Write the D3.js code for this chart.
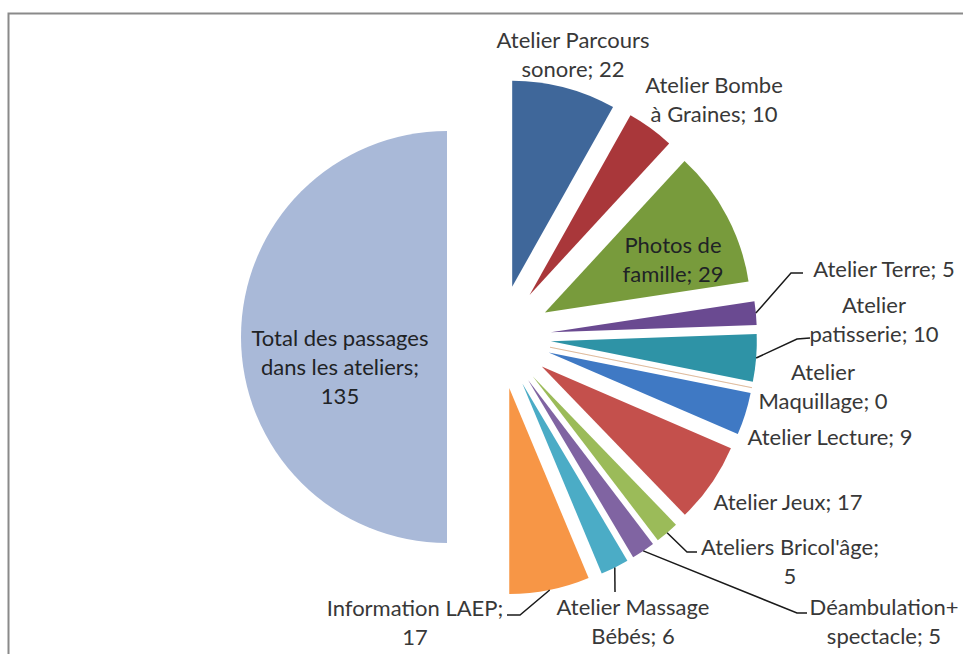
<!DOCTYPE html>
<html>
<head>
<meta charset="utf-8">
<script src="https://cdn.jsdelivr.net/npm/d3@7"></script>
<style>
  body { margin: 0; background: #fff; }
  svg { display: block; }
</style>
</head>
<body>
<div id="chart"></div>
<script>
// data
var categories = ["Atelier Parcours sonore", "Atelier Bombe à Graines", "Photos de famille",
  "Atelier Terre", "Atelier patisserie", "Atelier Maquillage", "Atelier Lecture",
  "Atelier Jeux", "Ateliers Bricol'âge", "Déambulation+ spectacle",
  "Atelier Massage Bébés", "Information LAEP", "Total des passages dans les ateliers"];
var values = [22, 10, 29, 5, 10, 0, 9, 17, 5, 5, 6, 17, 135];
// number of words on each line of a label
var wrapWords = [[2, 2], [2, 3], [2, 2], [3], [1, 2], [1, 2], [3], [3], [2, 1], [1, 2], [2, 2], [2, 1], [3, 3, 1]];

var colors = ["#3f679a", "#a9373a", "#789b3c", "#6a4a91", "#2e93a6", "#c07a40",
  "#3f79c4", "#c4504c", "#9bbb59", "#8064a2", "#4bacc6", "#f79646", "#a9b9d8"];

// label layout: centre x, first line centre y, inside or not, leader (elbow, end)
var labelLayout = [
  {x: 573, y: 40},
  {x: 714, y: 85},
  {x: 673, y: 245, inside: true},
  {x: 884, y: 269, leader: [[791, 273], [803, 273]]},
  {x: 874, y: 305, leader: [[797, 339], [810, 338]]},
  {x: 823, y: 372},
  {x: 830, y: 437},
  {x: 788, y: 502},
  {x: 790, y: 547, leader: [[687, 552], [697, 552]]},
  {x: 884, y: 607, leader: [[797, 613], [807, 613]]},
  {x: 633, y: 607, leader: [[615, 592], [615, 592]]},
  {x: 415, y: 608, leader: [[520, 615], [507, 615]]},
  {x: 340, y: 338, inside: true}
];

var width = 970, height = 654;
var cx = 499, cy = 337, radius = 206, explode = 52, lineH = 29;

var svg = d3.select("#chart").append("svg")
    .attr("width", width)
    .attr("height", height);

// chart area border (top and left visible)
svg.append("path")
    .attr("d", "M8.5," + height + "V13.5H963")
    .attr("fill", "none")
    .attr("stroke", "#8a8a8a")
    .attr("stroke-width", 2);

var data = categories.map(function(c, i) { return {name: c, value: values[i], i: i}; });

var pie = d3.pie()
    .value(function(d) { return d.value; })
    .sort(null);

var arc = d3.arc()
    .innerRadius(0)
    .outerRadius(radius);

var arcs = pie(data);

function offset(a, dist) {
  var m = (a.startAngle + a.endAngle) / 2;
  return [Math.sin(m) * dist, -Math.cos(m) * dist];
}

var g = svg.append("g")
    .attr("transform", "translate(" + cx + "," + cy + ")");

g.selectAll(".slice")
    .data(arcs)
    .enter().append("path")
    .attr("class", "slice")
    .attr("transform", function(d) {
      var o = offset(d, explode);
      return "translate(" + o[0] + "," + o[1] + ")";
    })
    .attr("d", arc)
    .attr("fill", function(d) { return colors[d.data.i]; })
    .attr("stroke", function(d) { return d.data.value === 0 ? colors[d.data.i] : "none"; })
    .attr("stroke-opacity", 0.3)
    .attr("stroke-width", 1);

// leader lines, starting on the outer edge of the exploded slice
arcs.forEach(function(d) {
  var lay = labelLayout[d.data.i];
  if (!lay.leader) return;
  var s = offset(d, explode + radius);
  var pts = [[cx + s[0], cy + s[1]]].concat(lay.leader);
  svg.append("path")
      .attr("d", d3.line()(pts))
      .attr("fill", "none")
      .attr("stroke", "#1a1a1a")
      .attr("stroke-width", 1.5);
});

// labels
arcs.forEach(function(d) {
  var lay = labelLayout[d.data.i];
  var words = (d.data.name + "; " + d.data.value).split(" ");
  var lines = [], k = 0;
  wrapWords[d.data.i].forEach(function(n) {
    lines.push(words.slice(k, k + n).join(" "));
    k += n;
  });
  var t = svg.append("text")
      .attr("text-anchor", "middle")
      .attr("font-family", "Lato, 'Open Sans', sans-serif")
      .attr("font-size", 22)
      .attr("fill", lay.inside ? "#1f2326" : "#383838");
  lines.forEach(function(l, j) {
    t.append("tspan")
        .attr("x", lay.x)
        .attr("y", lay.y + j * lineH)
        .attr("dy", "0.35em")
        .text(l);
  });
});
</script>
</body>
</html>
